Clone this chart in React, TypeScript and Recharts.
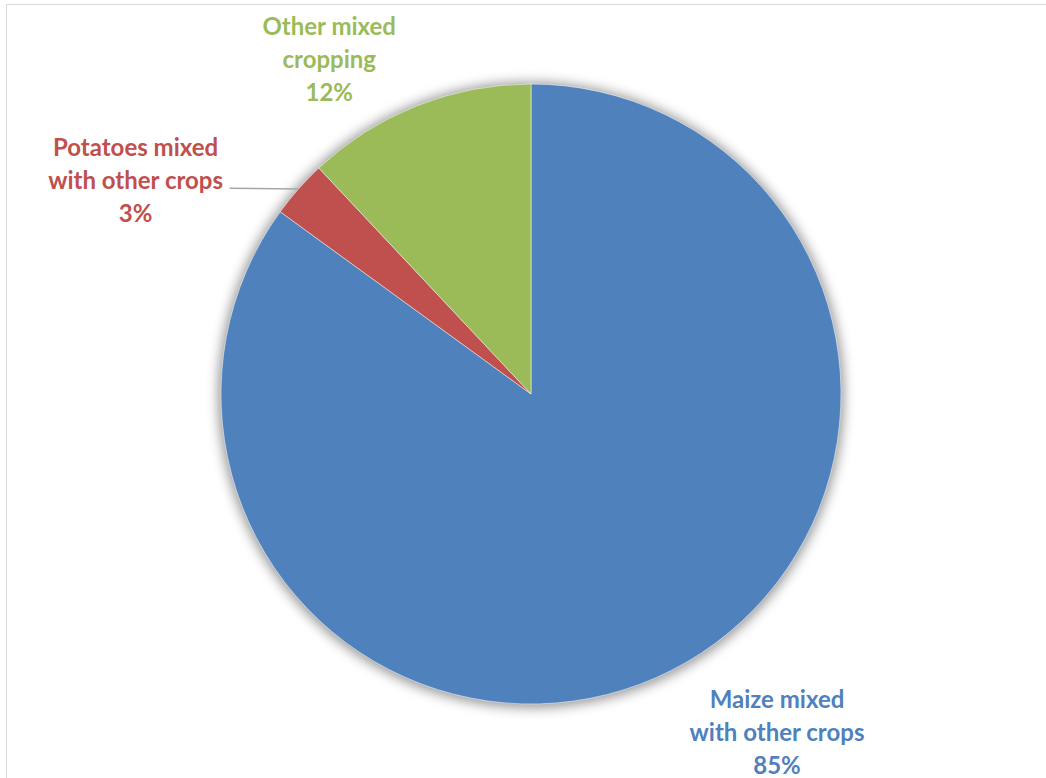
import { PieChart, Pie, Cell } from "recharts";

const categories = ["Maize mixed with other crops", "Potatoes mixed with other crops", "Other mixed cropping"];
const shares = [85, 3, 12];
const colors = ["#4F81BD", "#C0504D", "#9BBB59"];
const labelLines = [
  ["Maize mixed", "with other crops", "85%"],
  ["Potatoes mixed", "with other crops", "3%"],
  ["Other mixed", "cropping", "12%"],
];

const data = categories.map((name, i) => ({ name, value: shares[i] }));

// where each label block sits, relative to the slice's mid angle
const labelPlace = [
  { angle: 9, radius: 1.35, leader: false },
  { angle: 13, radius: 1.45, leader: true },
  { angle: 9.5, radius: 1.26, leader: false },
];

const RAD = Math.PI / 180;
const FONT = "Lato, 'Open Sans', sans-serif";

function renderLabel(props: any) {
  const { cx, cy, outerRadius, midAngle, index } = props;
  const p = labelPlace[index];
  const a = (midAngle + p.angle) * RAD;
  const r = outerRadius * p.radius;
  const x = cx + r * Math.cos(a);
  const y = cy - r * Math.sin(a);
  const lines = labelLines[index];
  const lh = 33;
  const ex = cx + outerRadius * Math.cos(midAngle * RAD);
  const ey = cy - outerRadius * Math.sin(midAngle * RAD);
  return (
    <g key={`lbl-${index}`}>
      {p.leader && (
        <line x1={ex} y1={ey} x2={x + 94} y2={y + 8} stroke="#A6A6A6" strokeWidth={1.5} />
      )}
      <text
        x={x}
        y={y}
        textAnchor="middle"
        fill={colors[index]}
        fontFamily={FONT}
        fontWeight={700}
        fontSize={24}
      >
        {lines.map((t, i) => (
          <tspan key={i} x={x} y={y + (i - 1) * lh} dy="0.35em">
            {t}
          </tspan>
        ))}
      </text>
    </g>
  );
}

export default function App() {
  return (
    <div style={{ position: "relative", width: 1046, height: 778, background: "#fff" }}>
      <style>{`body{margin:0}`}</style>
      <div
        style={{
          position: "absolute",
          left: 6,
          top: 4,
          width: 1100,
          height: 800,
          borderTop: "1.5px solid #D9D9D9",
          borderLeft: "1.5px solid #D9D9D9",
        }}
      />
      <div style={{ position: "absolute", left: 0, top: 0 }}>
        <PieChart width={1046} height={778} margin={{ top: 0, right: 0, bottom: 0, left: 0 }}>
          <defs>
            <filter id="pieShadow" x="-20%" y="-20%" width="140%" height="140%">
              <feGaussianBlur stdDeviation="6" />
            </filter>
          </defs>
          <Pie
            data={data}
            dataKey="value"
            nameKey="name"
            cx={531}
            cy={395}
            outerRadius={313}
            startAngle={90}
            endAngle={-270}
            stroke="none"
            fill="rgba(0,0,0,0.4)"
            style={{ filter: "url(#pieShadow)" }}
            isAnimationActive={false}
            legendType="none"
          />
          <Pie
            data={data}
            dataKey="value"
            nameKey="name"
            cx={531}
            cy={394}
            outerRadius={310}
            startAngle={90}
            endAngle={-270}
            stroke="#fff"
            strokeWidth={0.5}
            label={renderLabel}
            labelLine={false}
            isAnimationActive={false}
          >
            {data.map((d, i) => (
              <Cell key={d.name} fill={colors[i]} />
            ))}
          </Pie>
        </PieChart>
      </div>
    </div>
  );
}
